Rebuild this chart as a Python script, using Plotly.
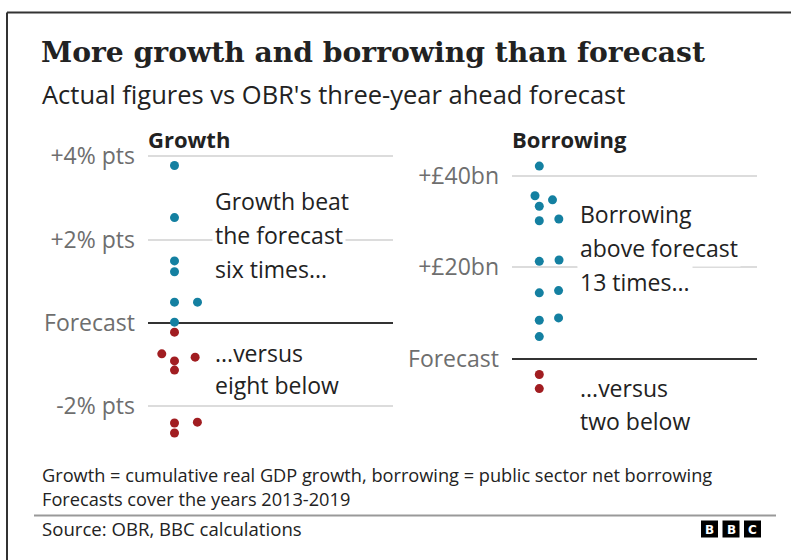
import plotly.graph_objects as go
import math

# ---------------- data ----------------
growth_title = "Growth"
borrowing_title = "Borrowing"
growth_values = [3.78, 2.53, 1.49, 1.23, 0.50, 0.50, 0.02, -0.22, -0.74, -0.82, -0.91, -1.13, -2.38, -2.40, -2.64]
borrowing_values = [42.2, 35.7, 34.8, 33.4, 30.6, 30.2, 21.6, 21.3, 14.9, 14.4, 8.9, 8.4, 4.8, -3.5, -6.6]
growth_tickvals = [-2, 0, 2, 4]
growth_ticktext = ["-2% pts", "Forecast", "+2% pts", "+4% pts"]
borrowing_tickvals = [0, 20, 40]
borrowing_ticktext = ["Forecast", "+£20bn", "+£40bn"]

W, H = 791, 560
SANS = "Open Sans"
SERIF = "DejaVu Serif"
BLUE = "#1480A1"
RED = "#A11D21"

def px(x):
    return x / W

def py(y):
    return 1 - y / H

# plot area (pixels)
TOP, BOT = 150, 445
G_LEFT, G_RIGHT = 148, 393
B_LEFT, B_RIGHT = 512, 757
G_ZERO, G_SCALE = 323, 41.67      # px of zero line, px per unit
B_ZERO, B_SCALE = 358.5, 4.56
G_CENTER, B_CENTER = 174.5, 539.3

def swarm(values, scale, rx=22.0, ry=8.5):
    """simple beeswarm: returns horizontal pixel offsets"""
    order = sorted(range(len(values)), key=lambda i: values[i])
    placed = []
    xs = [0.0] * len(values)
    for i in order:
        y = values[i] * scale
        cands = [0.0]
        for (xj, yj) in placed:
            dy = abs(y - yj)
            if dy < ry:
                d = rx * math.sqrt(1 - (dy / ry) ** 2)
                cands += [xj + d, xj - d]
        def ok(x):
            for (xj, yj) in placed:
                if ((x - xj) / rx) ** 2 + ((y - yj) / ry) ** 2 < 1 - 1e-6:
                    return False
            return True
        valid = [c for c in cands if ok(c)]
        best = min(valid, key=lambda c: (abs(c), -c))
        xs[i] = best
        placed.append((best, y))
    return xs

g_x = swarm(growth_values, G_SCALE, rx=23)
b_x = swarm(borrowing_values, B_SCALE, rx=20)

fig = go.Figure()
fig.add_trace(go.Scatter(
    x=g_x, y=growth_values, mode="markers", xaxis="x", yaxis="y",
    marker=dict(size=9, color=[BLUE if v >= 0 else RED for v in growth_values]),
    hoverinfo="skip", showlegend=False, cliponaxis=False))
fig.add_trace(go.Scatter(
    x=b_x, y=borrowing_values, mode="markers", xaxis="x2", yaxis="y2",
    marker=dict(size=9, color=[BLUE if v >= 0 else RED for v in borrowing_values]),
    hoverinfo="skip", showlegend=False, cliponaxis=False))

ydom = [py(BOT), py(TOP)]
axis_common = dict(showline=False, ticks="", showgrid=True, gridcolor="#dcdcdc", gridwidth=1.5,
                   zeroline=True, zerolinecolor="#333333", zerolinewidth=1.5,
                   tickfont=dict(family=SANS, size=23, color="#6e6e6e"), ticklabelstandoff=12,
                   fixedrange=True, automargin=False)
fig.update_layout(
    width=W, height=H, margin=dict(l=0, r=0, t=0, b=0, autoexpand=False),
    paper_bgcolor="white", plot_bgcolor="white",
    xaxis=dict(domain=[px(G_LEFT), px(G_RIGHT)], range=[G_LEFT - G_CENTER, G_RIGHT - G_CENTER],
               visible=False, anchor="y"),
    yaxis=dict(domain=ydom, range=[(G_ZERO - BOT) / G_SCALE, (G_ZERO - TOP) / G_SCALE],
               tickvals=growth_tickvals, ticktext=growth_ticktext, anchor="x", **axis_common),
    xaxis2=dict(domain=[px(B_LEFT), px(B_RIGHT)], range=[B_LEFT - B_CENTER, B_RIGHT - B_CENTER],
                visible=False, anchor="y2"),
    yaxis2=dict(domain=ydom, range=[(B_ZERO - BOT) / B_SCALE, (B_ZERO - TOP) / B_SCALE],
                tickvals=borrowing_tickvals, ticktext=borrowing_ticktext, anchor="x2", **axis_common),
)

ann = []
def text(x, y, s, size, color="#222222", family=SANS, xanchor="left", bg=None, pad=0, align="left"):
    d = dict(x=px(x), y=py(y), xref="paper", yref="paper", text=s, showarrow=False,
             xanchor=xanchor, yanchor="middle", align=align,
             font=dict(family=family, size=size, color=color), borderpad=pad)
    if bg:
        d["bgcolor"] = bg
    ann.append(d)

text(40, 52, "<b>More growth and borrowing than forecast</b>", 28.2, color="#222222", family=SERIF)
text(41, 94, "Actual figures vs OBR's three-year ahead forecast", 25.5, color="#222222")
text(147, 139, "<b>" + growth_title + "</b>", 22, color="#222222")
text(511, 139, "<b>" + borrowing_title + "</b>", 22, color="#222222")

for i, s in enumerate(["Growth beat", "the forecast", "six times..."]):
    text(212, 201 + 34 * i, s, 23, bg="white", pad=2)
for i, s in enumerate(["...versus", "eight below"]):
    text(212, 353 + 32 * i, s, 23, bg="white", pad=2)
for i, s in enumerate(["Borrowing", "above forecast", "13 times..."]):
    text(577, 214 + 34 * i, s, 23, bg="white", pad=2)
for i, s in enumerate(["...versus", "two below"]):
    text(577, 388 + 33 * i, s, 23, bg="white", pad=2)

text(41, 486.5, "Growth = cumulative real GDP growth, borrowing = public sector net borrowing"
     "<br>Forecasts cover the years 2013-2019", 18.2)
text(41, 528, "Source: OBR, BBC calculations", 18.6)

shapes = [
    dict(type="line", xref="paper", yref="paper", x0=px(7), x1=px(W), y0=py(12.5), y1=py(12.5),
         line=dict(color="#333333", width=2)),
    dict(type="line", xref="paper", yref="paper", x0=px(7), x1=px(7), y0=py(12.5), y1=0,
         line=dict(color="#333333", width=2)),
    dict(type="line", xref="paper", yref="paper", x0=px(34), x1=px(776), y0=py(515.5), y1=py(515.5),
         line=dict(color="#999999", width=2)),
]
for k, letter in enumerate(["B", "B", "C"]):
    x0 = 701 + k * 21.5
    shapes.append(dict(type="rect", xref="paper", yref="paper", x0=px(x0), x1=px(x0 + 17),
                       y0=py(537.5), y1=py(520.5), fillcolor="black", line=dict(width=0)))
    ann.append(dict(x=px(x0 + 8.5), y=py(529.5), xref="paper", yref="paper", text="<b>" + letter + "</b>",
                    showarrow=False, xanchor="center", yanchor="middle",
                    font=dict(family="DejaVu Sans", size=12, color="white")))

fig.update_layout(annotations=ann, shapes=shapes)
fig.write_html("out.html")
